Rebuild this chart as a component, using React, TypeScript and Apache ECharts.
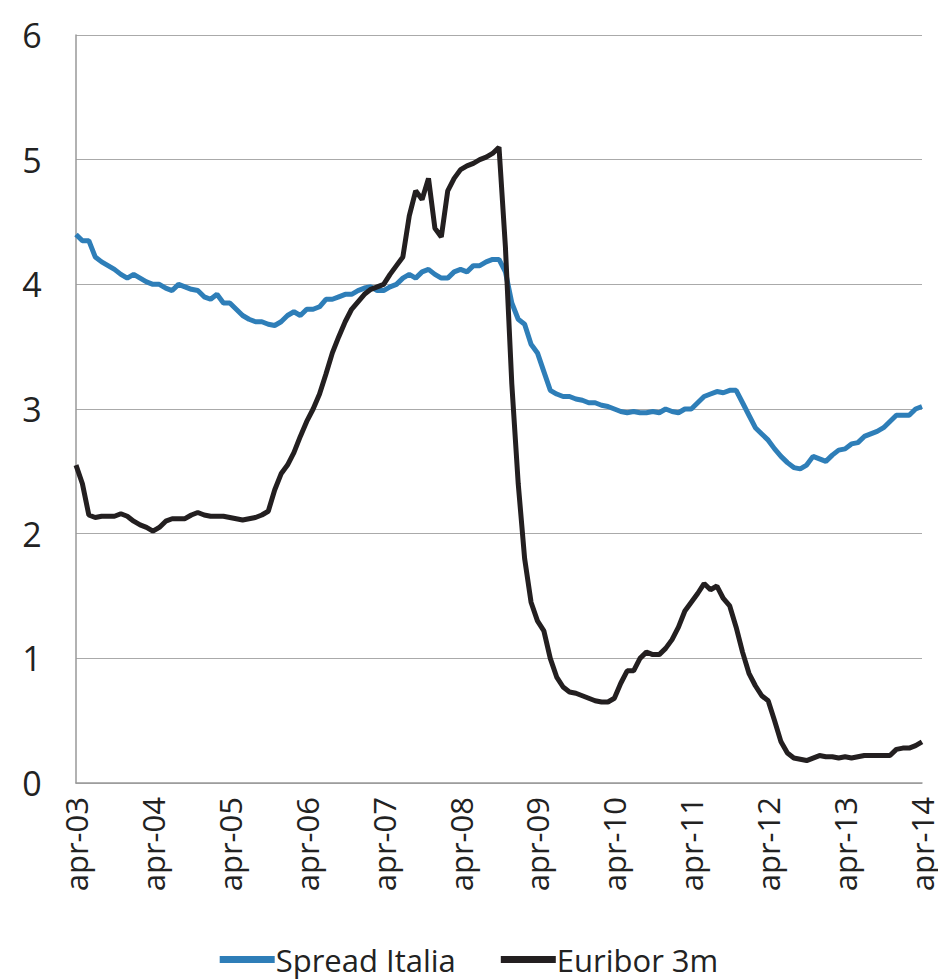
import React, { useEffect, useRef } from "react";
import * as echarts from "echarts";

const monthNames = ["apr","mag","giu","lug","ago","set","ott","nov","dic","gen","feb","mar"];
const startYears = [3,4,5,6,7,8,9,10,11,12,13];

const spread = [
  4.40,4.35,4.35,4.22,4.18,4.15,4.12,4.08,4.05,4.08,4.05,4.02,
  4.00,4.00,3.97,3.95,4.00,3.98,3.96,3.95,3.90,3.88,3.92,3.85,
  3.85,3.80,3.75,3.72,3.70,3.70,3.68,3.67,3.70,3.75,3.78,3.75,
  3.80,3.80,3.82,3.88,3.88,3.90,3.92,3.92,3.95,3.97,3.98,3.95,
  3.95,3.98,4.00,4.05,4.08,4.05,4.10,4.12,4.08,4.05,4.05,4.10,
  4.12,4.10,4.15,4.15,4.18,4.20,4.20,4.10,3.85,3.72,3.68,3.52,
  3.45,3.30,3.15,3.12,3.10,3.10,3.08,3.07,3.05,3.05,3.03,3.02,
  3.00,2.98,2.97,2.98,2.97,2.97,2.98,2.97,3.00,2.98,2.97,3.00,
  3.00,3.05,3.10,3.12,3.14,3.13,3.15,3.15,3.05,2.95,2.85,2.80,
  2.75,2.68,2.62,2.57,2.53,2.52,2.55,2.62,2.60,2.58,2.63,2.67,
  2.68,2.72,2.73,2.78,2.80,2.82,2.85,2.90,2.95,2.95,2.95,3.00,
  3.02
];

const euribor = [
  2.55,2.40,2.15,2.13,2.14,2.14,2.14,2.16,2.14,2.10,2.07,2.05,
  2.02,2.05,2.10,2.12,2.12,2.12,2.15,2.17,2.15,2.14,2.14,2.14,
  2.13,2.12,2.11,2.12,2.13,2.15,2.18,2.35,2.48,2.55,2.65,2.78,
  2.90,3.00,3.12,3.28,3.45,3.58,3.70,3.80,3.86,3.92,3.96,3.98,
  4.00,4.08,4.15,4.22,4.55,4.75,4.68,4.85,4.45,4.38,4.75,4.85,
  4.92,4.95,4.97,5.00,5.02,5.05,5.10,4.30,3.20,2.40,1.80,1.45,
  1.30,1.22,1.00,0.85,0.77,0.73,0.72,0.70,0.68,0.66,0.65,0.65,
  0.68,0.80,0.90,0.90,1.00,1.05,1.03,1.03,1.08,1.15,1.25,1.38,
  1.45,1.52,1.60,1.55,1.58,1.48,1.42,1.25,1.05,0.88,0.78,0.70,
  0.66,0.50,0.33,0.24,0.20,0.19,0.18,0.20,0.22,0.21,0.21,0.20,
  0.21,0.20,0.21,0.22,0.22,0.22,0.22,0.22,0.27,0.28,0.28,0.30,
  0.33
];

const categories: string[] = [];
startYears.forEach((y) => {
  monthNames.forEach((m, i) => {
    const yy = i >= 9 ? y + 1 : y;
    categories.push(m + "-" + String(yy).padStart(2, "0"));
  });
});
categories.push("apr-14");

export default function App() {
  const ref = useRef<HTMLDivElement>(null);
  useEffect(() => {
    document.body.style.margin = "0";
    const chart = echarts.init(ref.current!, null, { renderer: "svg" });
    chart.setOption({
      animation: false,
      textStyle: { fontFamily: "Open Sans" },
      grid: { left: 76, right: 16, top: 35, bottom: 197 },
      legend: {
        bottom: 0,
        left: "center",
        itemWidth: 55,
        itemHeight: 7,
        itemGap: 45,
        textStyle: { fontSize: 31, color: "#222", fontFamily: "Open Sans", padding: [0, 0, 0, -4] },
        data: [
          { name: "Spread Italia", icon: "rect" },
          { name: "Euribor 3m", icon: "rect" },
        ],
      },
      xAxis: {
        type: "category",
        data: categories,
        boundaryGap: false,
        axisLine: { lineStyle: { color: "#999", width: 1.5 } },
        axisTick: { show: false },
        axisLabel: {
          interval: 11,
          rotate: 90,
          fontSize: 31,
          color: "#222",
          margin: 14,
        },
      },
      yAxis: {
        type: "value",
        min: 0,
        max: 6,
        interval: 1,
        axisLine: { show: true, lineStyle: { color: "#999", width: 1.5 } },
        axisTick: { show: false },
        axisLabel: { fontSize: 34, color: "#222", margin: 44, align: "center" },
        splitLine: { lineStyle: { color: "#aaa", width: 1.2 } },
      },
      series: [
        {
          name: "Spread Italia",
          type: "line",
          data: spread,
          symbol: "none",
          color: "#2E7EB8",
          lineStyle: { width: 5, color: "#2E7EB8" },
        },
        {
          name: "Euribor 3m",
          type: "line",
          data: euribor,
          symbol: "none",
          color: "#231F20",
          lineStyle: { width: 5, color: "#231F20" },
        },
      ],
    });
    return () => chart.dispose();
  }, []);
  return <div ref={ref} style={{ width: 938, height: 980 }} />;
}
